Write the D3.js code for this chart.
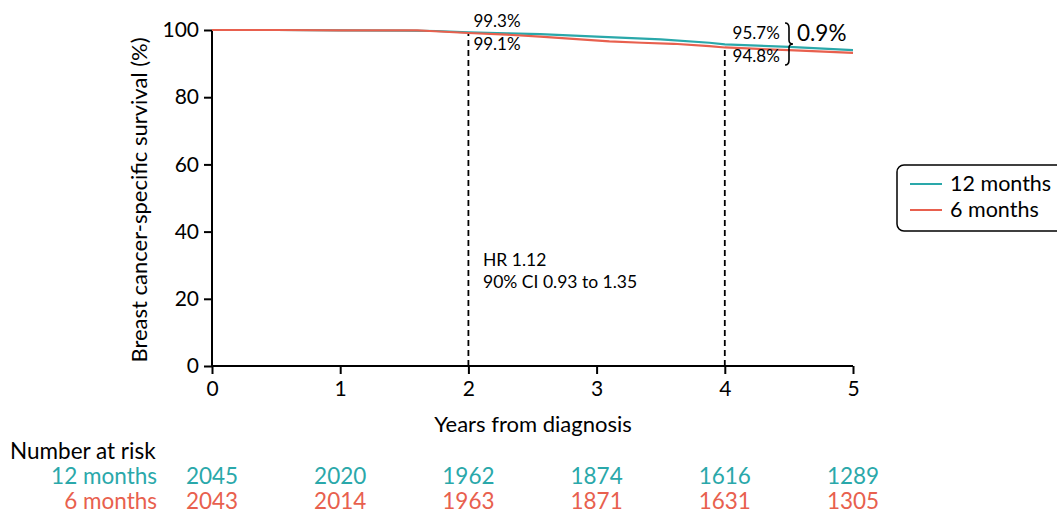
<!DOCTYPE html>
<html><head><meta charset="utf-8">
<script src="https://cdn.jsdelivr.net/npm/d3@7"></script>
<style>body{margin:0;background:#fff;font-family:Lato,"Open Sans",sans-serif;} svg{display:block}</style>
</head><body>
<svg id="c" width="1057" height="514"></svg>
<script>
const years12 = [0, 0.5, 1, 1.5, 1.75, 2, 2.3, 2.56, 3, 3.5, 3.88, 4, 4.5, 5];
const surv12  = [100, 100, 99.9, 99.8, 99.7, 99.3, 99.0, 98.8, 98.0, 97.2, 96.2, 95.7, 95.0, 94.0];
const years6  = [0, 0.5, 1, 1.6, 1.7, 2, 2.3, 2.56, 3.1, 3.35, 3.6, 3.88, 4, 4.5, 5];
const surv6   = [100, 100, 99.9, 99.9, 99.7, 99.1, 98.6, 98.0, 96.6, 96.2, 95.9, 95.2, 94.8, 94.0, 93.2];
const xTicks = [0, 1, 2, 3, 4, 5];
const yTicks = [0, 20, 40, 60, 80, 100];
const seriesNames = ["12 months", "6 months"];
const atRisk12 = [2045, 2020, 1962, 1874, 1616, 1289];
const atRisk6  = [2043, 2014, 1963, 1871, 1631, 1305];
const colors = ["#2aa8aa", "#e8604e"];

const svg = d3.select("#c");
const x = d3.scaleLinear().domain([0, 5]).range([212, 853]);
const y = d3.scaleLinear().domain([0, 100]).range([366, 30]);
const font = "Lato, 'Open Sans', sans-serif";

// axes
const gx = svg.append("g").attr("transform", "translate(0,366)")
  .call(d3.axisBottom(x).tickValues(xTicks).tickSize(8).tickPadding(7).tickFormat(d3.format("d")));
const gy = svg.append("g").attr("transform", "translate(212,0)")
  .call(d3.axisLeft(y).tickValues(yTicks).tickSize(8).tickPadding(5));
[gx, gy].forEach(g => {
  g.select(".domain").attr("stroke", "#000").attr("stroke-width", 2);
  g.selectAll(".tick line").attr("stroke", "#000").attr("stroke-width", 2);
  g.selectAll(".tick text").attr("font-size", 21).attr("font-family", font).attr("fill", "#000");
});
gx.select(".domain").attr("d", "M212,0H853");
gy.select(".domain").attr("d", "M0,366V30");

svg.append("text").attr("x", 533).attr("y", 432).attr("text-anchor", "middle")
  .attr("font-size", 22).attr("font-family", font).text("Years from diagnosis");
svg.append("text").attr("transform", "translate(147,200) rotate(-90)").attr("text-anchor", "middle")
  .attr("font-size", 22).attr("font-family", font).text("Breast cancer-specific survival (%)");

// dashed lines
svg.append("line").attr("x1", x(2)).attr("x2", x(2)).attr("y1", y(0)).attr("y2", y(99.3))
  .attr("stroke", "#000").attr("stroke-width", 1.8).attr("stroke-dasharray", "6,4");
svg.append("line").attr("x1", x(4)).attr("x2", x(4)).attr("y1", y(0)).attr("y2", y(94.8))
  .attr("stroke", "#000").attr("stroke-width", 1.8).attr("stroke-dasharray", "6,4");

// curves
const line = d3.line().x(d => x(d[0])).y(d => y(d[1]));
const data12 = years12.map((t, i) => [t, surv12[i]]);
const data6 = years6.map((t, i) => [t, surv6[i]]);
svg.append("path").datum(data12).attr("d", line).attr("fill", "none").attr("stroke", colors[0]).attr("stroke-width", 2.2);
svg.append("path").datum(data6).attr("d", line).attr("fill", "none").attr("stroke", colors[1]).attr("stroke-width", 2.2);

// annotations
const ann = (tx, ty, s, size, anchor) => svg.append("text").attr("x", tx).attr("y", ty)
  .attr("font-size", size).attr("font-family", font).attr("text-anchor", anchor || "start").text(s);
ann(x(2) + 5, 27, "99.3%", 17);
ann(x(2) + 5, 50, "99.1%", 17);
ann(x(4) + 55, 39, "95.7%", 17, "end");
ann(x(4) + 55, 62, "94.8%", 17, "end");
ann(797, 41, "0.9%", 22.5);
ann(483, 266, "HR 1.12", 17.5);
ann(483, 288, "90% CI 0.93 to 1.35", 17.5);

// brace
const bx = 785, bt = 23, bb = 65, bm = 44;
svg.append("path")
  .attr("d", `M${bx},${bt} Q${bx+4},${bt} ${bx+4},${bt+5} L${bx+4},${bm-4} Q${bx+4},${bm} ${bx+8},${bm} Q${bx+4},${bm} ${bx+4},${bm+4} L${bx+4},${bb-5} Q${bx+4},${bb} ${bx},${bb}`)
  .attr("fill", "none").attr("stroke", "#000").attr("stroke-width", 1.6);

// legend
svg.append("rect").attr("x", 897).attr("y", 165).attr("width", 170).attr("height", 66).attr("rx", 7)
  .attr("fill", "#fff").attr("stroke", "#000").attr("stroke-width", 1.5);
seriesNames.forEach((n, i) => {
  const ly = 184 + i * 26;
  svg.append("line").attr("x1", 910).attr("x2", 942).attr("y1", ly).attr("y2", ly)
    .attr("stroke", colors[i]).attr("stroke-width", 2);
  svg.append("text").attr("x", 950).attr("y", ly + 7).attr("font-size", 21.5).attr("font-family", font).text(n);
});

// number at risk
svg.append("text").attr("x", 10).attr("y", 459).attr("font-size", 22.5).attr("font-family", font).text("Number at risk");
[atRisk12, atRisk6].forEach((arr, i) => {
  const ry = 484 + i * 25;
  svg.append("text").attr("x", 157).attr("y", ry).attr("text-anchor", "end").attr("font-size", 22.5)
    .attr("font-family", font).attr("fill", colors[i]).text(seriesNames[i]);
  svg.selectAll(null).data(arr).enter().append("text")
    .attr("x", (d, j) => x(xTicks[j])).attr("y", ry).attr("text-anchor", "middle")
    .attr("font-size", 22.5).attr("font-family", font).attr("fill", colors[i]).text(d => d);
});
</script>
</body></html>
